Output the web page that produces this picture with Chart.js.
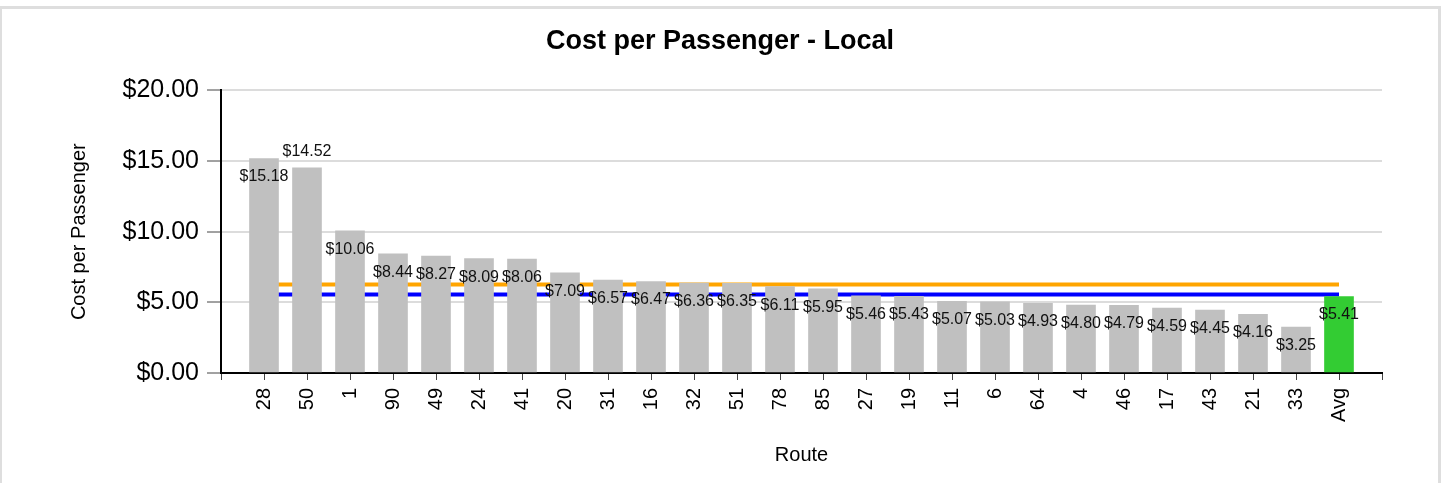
<!DOCTYPE html>
<html>
<head>
<meta charset="utf-8">
<title>Cost per Passenger - Local</title>
<script src="https://cdn.jsdelivr.net/npm/chart.js@4.4.1/dist/chart.umd.min.js"></script>
<style>
  html, body { margin: 0; padding: 0; background: #fff; overflow: hidden; }
  #frame {
    position: absolute; left: 0; top: 6px; width: 1441px; height: 520px;
    box-sizing: border-box; border: 3px solid #dedede; border-left-width: 2px;
  }
  #wrap { position: absolute; left: 0; top: 0; width: 1444px; height: 483px; }
</style>
</head>
<body>
<div id="frame"></div>
<div id="wrap"><canvas id="costChart" width="1444" height="483"></canvas></div>
<script>
// data
const routes = ["28", "50", "1", "90", "49", "24", "41", "20", "31", "16", "32", "51", "78",
    "85", "27", "19", "11", "6", "64", "4", "46", "17", "43", "21", "33", "Avg"];
const costPerPassenger = [15.18, 14.52, 10.06, 8.44, 8.27, 8.09, 8.06, 7.09, 6.57, 6.47, 6.36,
    6.35, 6.11, 5.95, 5.46, 5.43, 5.07, 5.03, 4.93, 4.80, 4.79, 4.59, 4.45, 4.16, 3.25, 5.41];
const orangeLevel = 6.27;
const blueLevel = 5.56;
const yTicks = [0, 5, 10, 15, 20];

const FONT = "'Liberation Sans', Arial, sans-serif";

// empty slot at each end so the axis runs half a step past the first/last bar
const labels = ["", ...routes, ""];
const pad = (arr) => [null, ...arr, null];
const barColors = routes.map(r => r === "Avg" ? "#33cc33" : "#c0c0c0");

// value labels: below the bar top, moved above if it would hit the previous one
const barLabels = {
    id: "barLabels",
    afterDatasetsDraw(chart) {
        const ctx = chart.ctx;
        const meta = chart.getDatasetMeta(0);
        const values = chart.data.datasets[0].data;
        ctx.save();
        ctx.font = "16px " + FONT;
        ctx.fillStyle = "#111";
        ctx.textAlign = "center";
        ctx.textBaseline = "middle";
        let prev = null;
        meta.data.forEach((bar, i) => {
            const v = values[i];
            if (v == null) return;
            const txt = "$" + v.toFixed(2);
            const w = ctx.measureText(txt).width;
            let y = bar.y + 18.5;
            const box = {l: bar.x - w / 2, r: bar.x + w / 2, t: y - 6, b: y + 6};
            if (prev && box.l < prev.r && box.r > prev.l && box.t < prev.b && box.b > prev.t) {
                y = bar.y - 16;
                box.t = y - 6;
                box.b = y + 6;
            }
            ctx.fillText(txt, bar.x, y);
            prev = box;
        });
        ctx.restore();
    }
};

new Chart(document.getElementById("costChart"), {
    type: "bar",
    data: {
        labels: labels,
        datasets: [{
            label: "Cost per Passenger",
            data: pad(costPerPassenger),
            backgroundColor: pad(barColors),
            borderWidth: 0,
            barThickness: 29,
            order: 1,
        }, {
            type: "line",
            label: "orange",
            data: pad(routes.map(() => orangeLevel)),
            borderColor: "#ffa500",
            borderWidth: 4,
            pointRadius: 0,
            fill: false,
            order: 2,
        }, {
            type: "line",
            label: "blue",
            data: pad(routes.map(() => blueLevel)),
            borderColor: "#0000ff",
            borderWidth: 4,
            pointRadius: 0,
            fill: false,
            order: 3,
        }]
    },
    options: {
        responsive: false,
        animation: false,
        devicePixelRatio: 1,
        layout: {padding: {left: 58, right: 62, top: 0, bottom: 0}},
        plugins: {
            legend: {display: false},
            tooltip: {enabled: false},
            title: {
                display: true,
                text: "Cost per Passenger - Local",
                color: "#000",
                font: {family: FONT, size: 27, weight: "bold"},
                padding: {top: 25, bottom: 33},
            },
        },
        scales: {
            x: {
                type: "category",
                offset: false,
                grid: {
                    offset: false,
                    drawOnChartArea: false,
                    tickLength: 7,
                    tickColor: "#444",
                    tickWidth: 1,
                },
                border: {color: "#000", width: 2},
                ticks: {
                    autoSkip: false,
                    maxRotation: 90,
                    minRotation: 90,
                    padding: 8,
                    color: "#000",
                    font: {family: FONT, size: 20},
                },
                title: {
                    display: true,
                    text: "Route",
                    color: "#000",
                    font: {family: FONT, size: 20},
                    padding: {top: 0, bottom: 16},
                },
                afterFit: (s) => { s.height = 110; },
            },
            y: {
                min: 0,
                max: 20,
                afterBuildTicks: (s) => { s.ticks = yTicks.map(v => ({value: v})); },
                grid: {
                    color: "#dcdcdc",
                    lineWidth: 2,
                    tickLength: 14,
                    tickColor: "#444",
                    tickWidth: 1,
                },
                border: {color: "#000", width: 2},
                ticks: {
                    padding: 8,
                    color: "#000",
                    font: {family: FONT, size: 25},
                    callback: (v) => "$" + Number(v).toFixed(2),
                },
                title: {
                    display: true,
                    text: "Cost per Passenger",
                    color: "#000",
                    font: {family: FONT, size: 20},
                    padding: {top: 9, bottom: 0},
                },
                afterFit: (s) => { s.width = 163; },
            }
        }
    },
    plugins: [barLabels]
});
</script>
</body>
</html>
